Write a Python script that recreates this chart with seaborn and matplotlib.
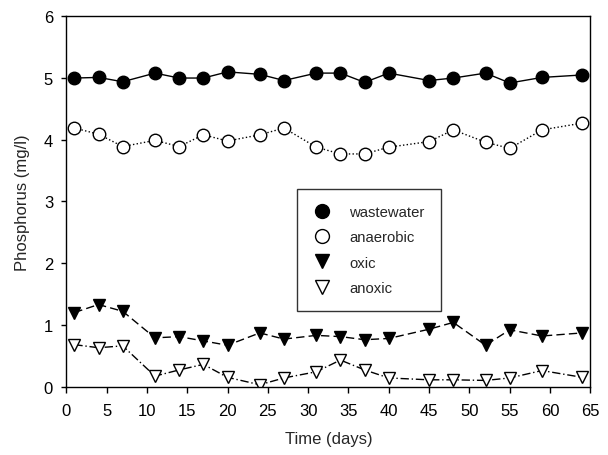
import numpy as np
import pandas as pd
import matplotlib
matplotlib.use('Agg')
import matplotlib.pyplot as plt
from matplotlib.lines import Line2D
import seaborn as sns

days = [1, 4, 7, 11, 14, 17, 20, 24, 27, 31, 34, 37, 40, 45, 48, 52, 55, 59, 64]
wastewater = [5.0, 5.01, 4.94, 5.08, 5.0, 5.0, 5.1, 5.06, 4.96, 5.08, 5.08, 4.93, 5.08, 4.96, 5.0, 5.08, 4.92, 5.01, 5.05]
anaerobic = [4.19, 4.09, 3.89, 3.99, 3.89, 4.08, 3.98, 4.08, 4.19, 3.88, 3.77, 3.77, 3.88, 3.97, 4.16, 3.96, 3.86, 4.16, 4.27]
oxic = [1.2, 1.33, 1.22, 0.79, 0.81, 0.74, 0.67, 0.87, 0.77, 0.83, 0.81, 0.76, 0.78, 0.93, 1.04, 0.67, 0.92, 0.82, 0.87]
anoxic = [0.68, 0.63, 0.66, 0.17, 0.27, 0.36, 0.15, 0.03, 0.14, 0.24, 0.43, 0.27, 0.14, 0.11, 0.11, 0.1, 0.14, 0.26, 0.15]

sns.set_style('ticks')
plt.rcParams['font.family'] = ['Liberation Sans', 'DejaVu Sans']

fig = plt.figure(figsize=(6.08, 4.56), dpi=100)
ax = fig.add_axes([0.109, 0.150, 0.862, 0.812])

series = [
    ('wastewater', wastewater, 'o', 'black', '-'),
    ('anaerobic', anaerobic, 'o', 'white', ':'),
    ('oxic', oxic, 'v', 'black', (0, (6, 3))),
    ('anoxic', anoxic, 'v', 'white', (0, (6, 2, 1, 2))),
]

handles = []
for name, vals, mk, fc, ls in series:
    df = pd.DataFrame({'day': days, 'P': vals})
    sns.lineplot(data=df, x='day', y='P', ax=ax, color='black', linewidth=1.0,
                 linestyle=ls, marker=mk, markersize=9, markerfacecolor=fc,
                 markeredgecolor='black', markeredgewidth=1.0)
    handles.append(Line2D([], [], linestyle='none', marker=mk, markersize=10,
                          markerfacecolor=fc, markeredgecolor='black',
                          markeredgewidth=1.0, label=name))

ax.set_xlim(0, 65)
ax.set_ylim(0, 6)
ax.set_xticks(np.arange(0, 66, 5))
ax.set_yticks(np.arange(0, 7, 1))
ax.tick_params(direction='out', width=1, labelsize=12, colors='black')
ax.tick_params(axis='x', length=4.5, pad=7)
ax.tick_params(axis='y', length=3.5, pad=6)
for s in ax.spines.values():
    s.set_visible(True)
    s.set_color('black')
    s.set_linewidth(1.0)

ax.set_xlabel('Time (days)', fontsize=12, labelpad=10)
ax.set_ylabel('Phosphorus (mg/l)', fontsize=12, labelpad=10)

leg = ax.legend(handles=handles, loc='lower left', bbox_to_anchor=(0.44, 0.204),
                frameon=True, fancybox=False, edgecolor='black', fontsize=10.7,
                borderpad=1.1, labelspacing=0.75, handletextpad=1.2,
                handlelength=1.2, borderaxespad=0)
leg.get_frame().set_linewidth(1.0)

fig.savefig('out.png', dpi=100)
